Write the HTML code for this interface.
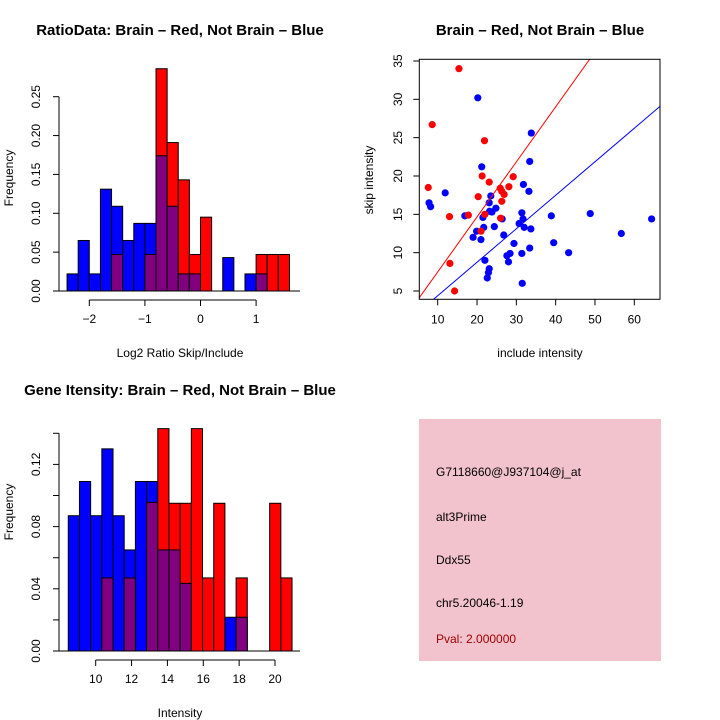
<!DOCTYPE html>
<html><head><meta charset="utf-8"><style>
body{margin:0;background:#fff;}
svg{display:block;font-family:"Liberation Sans",sans-serif;}
</style></head><body>
<svg id="c" width="720" height="720" viewBox="0 0 720 720">
<rect x="0" y="0" width="720" height="720" fill="#fff"/>
<g id="p1"></g>
<g id="p2"></g>
<g id="p3"></g>
<g id="p4">
<rect x="419" y="419" width="242" height="242" fill="#f3c3cd"/>
<text x="436" y="476" font-size="12">G7118660@J937104@j_at</text>
<text x="436" y="521" font-size="12">alt3Prime</text>
<text x="436" y="564" font-size="12">Ddx55</text>
<text x="436" y="607" font-size="12">chr5.20046-1.19</text>
<text x="436" y="643" font-size="12" fill="#a00000">Pval: 2.000000</text>
</g>
</svg>
<script>
// ---- Ratio histogram data ----
const ratioBinStart = -2.4;
const ratioBinWidth = 0.2;
const ratioBlue = [0.022,0.065,0.022,0.131,0.109,0.065,0.087,0.087,0.174,0.109,0.022,0.022,0,0,0.043,0,0.022,0.022,0,0];
const ratioRed  = [0,0,0,0,0.047,0,0,0.047,0.286,0.191,0.143,0.047,0.095,0,0,0,0,0.047,0.047,0.047];
const ratioXTicks = [-2,-1,0,1];
const ratioYTicks = [0,0.05,0.10,0.15,0.20,0.25];
const ratioYLabels = ["0.00","0.05","0.10","0.15","0.20","0.25"];

// ---- Gene intensity histogram data ----
const geneBinStart = 8.47;
const geneBinWidth = 0.624;
const geneBlue = [0.087,0.109,0.087,0.130,0.087,0.065,0.109,0.109,0.065,0.065,0.0435,0,0,0,0.0217,0.0217,0,0,0,0];
const geneRed  = [0,0,0,0.047,0,0.047,0,0.0956,0.143,0.095,0.095,0.143,0.047,0.095,0,0.047,0,0,0.095,0.047];
const geneXTicks = [10,12,14,16,18,20];
const geneYTicks = [0,0.02,0.04,0.06,0.08,0.10,0.12,0.14];
const geneYLabelVals = [0,0.04,0.08,0.12];
const geneYLabels = ["0.00","0.04","0.08","0.12"];

// ---- Scatter data ----
const redX = [15.4,8.6,21.9,7.6,13.0,13.1,14.3,17.8,20.3,21.3,23.1,22.0,21.0,25.9,26.3,26.9,26.3,26.0,28.1,29.2];
const redY = [34.0,26.7,24.6,18.5,14.7,8.6,5.0,14.9,17.3,20.0,19.2,15.0,12.8,18.4,18.0,17.6,16.7,14.5,18.6,19.9];
const blueX = [20.2,33.8,33.4,21.2,11.9,7.8,8.2,16.9,23.5,23.1,24.8,23.8,23.2,21.5,26.4,21.7,19.9,19.0,21.0,24.4,26.8,22.0,23.1,22.9,22.6,27.6,28.4,28.0,29.4,30.7,31.4,31.7,32.0,31.8,33.2,33.7,33.4,31.4,31.5,38.9,39.5,43.3,48.8,56.7,64.4];
const blueY = [30.2,25.6,21.9,21.2,17.8,16.5,16.0,14.8,17.4,16.5,15.8,15.3,15.4,14.6,14.4,13.3,12.8,12.0,11.7,13.4,12.3,9.0,7.9,7.4,6.7,9.6,9.9,8.8,11.2,13.8,15.2,14.4,13.3,18.9,18.0,13.1,10.6,9.9,6.0,14.8,11.3,10.0,15.1,12.5,14.4];
const redFit = [0.3, 0.718];   // intercept, slope
const blueFit = [0.01, 0.437];
const scXTicks = [10,20,30,40,50,60];
const scYTicks = [5,10,15,20,25,30,35];

const NS="http://www.w3.org/2000/svg";
function mk(parent, tag, attrs, txt){
  const e=document.createElementNS(NS,tag);
  for(const k in attrs) e.setAttribute(k,attrs[k]);
  if(txt!==undefined) e.textContent=txt;
  parent.appendChild(e); return e;
}

function hist(g, start, w, blue, red, xs, ys, xTicks, yTicks, yLabVals, yLabs, base, tickY){
  const n=blue.length;
  for(let i=0;i<n;i++){
    const b=blue[i], r=red[i];
    const x0=xs(start+i*w), x1=xs(start+(i+1)*w);
    const hi=Math.max(b,r), lo=Math.min(b,r);
    if(hi>0){
      const el=mk(g,'rect',{x:x0,y:ys(hi),width:x1-x0,height:ys(0)-ys(hi),fill:(b>=r?'#0000ff':'#ff0000'),stroke:'#000','stroke-width':1});
      
      
    }
    if(lo>0){
      const el=mk(g,'rect',{x:x0,y:ys(lo),width:x1-x0,height:ys(0)-ys(lo),fill:'#800080',stroke:'#000','stroke-width':1});
      
      
    }
  }
  mk(g,'line',{x1:59,x2:300,y1:ys(0),y2:ys(0),stroke:'#000','stroke-width':1});
  const ya=mk(g,'g',{});
  
  
  mk(ya,'line',{x1:59,x2:59,y1:ys(yTicks[0]),y2:ys(yTicks[yTicks.length-1]),stroke:'#000'});
  yTicks.forEach(v=>mk(ya,'line',{x1:53,x2:59,y1:ys(v),y2:ys(v),stroke:'#000'}));
  yLabVals.forEach((v,i)=>{const t=mk(ya,'text',{x:40,y:ys(v),'font-size':12,'text-anchor':'middle',transform:`rotate(-90 40 ${ys(v)})`},yLabs[i]);
    });
  const xa=mk(g,'g',{});
  
  
  mk(xa,'line',{x1:xs(xTicks[0]),x2:xs(xTicks[xTicks.length-1]),y1:tickY,y2:tickY,stroke:'#000'});
  xTicks.forEach(v=>{mk(xa,'line',{x1:xs(v),x2:xs(v),y1:tickY,y2:tickY+6,stroke:'#000'});
    const t=mk(xa,'text',{x:xs(v),y:tickY+23,'font-size':12,'text-anchor':'middle'},String(v).replace('-','\u2212'));
    });
}

// Plot 1
(function(){
  const g=document.getElementById('p1');
  const xs=v=>89.3+(v+2)*55.6;
  const ys=v=>291-v*777.2;
  hist(g,ratioBinStart,ratioBinWidth,ratioBlue,ratioRed,xs,ys,ratioXTicks,ratioYTicks,ratioYTicks,ratioYLabels,291,300);
  let t=mk(g,'text',{x:180,y:35,'font-size':15,'font-weight':'bold','text-anchor':'middle'},'RatioData: Brain \u2013 Red, Not Brain \u2013 Blue');
  
  t=mk(g,'text',{x:180,y:357,'font-size':12,'text-anchor':'middle'},'Log2 Ratio Skip/Include');
  
  t=mk(g,'text',{x:13,y:178,'font-size':12,'text-anchor':'middle',transform:'rotate(-90 13 178)'},'Frequency');
  
})();

// Plot 3
(function(){
  const g=document.getElementById('p3');
  const xs=v=>95.7+(v-10)*17.93;
  const ys=v=>651-v*1555;
  hist(g,geneBinStart,geneBinWidth,geneBlue,geneRed,xs,ys,geneXTicks,geneYTicks,geneYLabelVals,geneYLabels,651,660);
  let t=mk(g,'text',{x:180,y:395,'font-size':15,'font-weight':'bold','text-anchor':'middle'},'Gene Itensity: Brain \u2013 Red, Not Brain \u2013 Blue');
  
  t=mk(g,'text',{x:180,y:717,'font-size':12,'text-anchor':'middle'},'Intensity');
  
  t=mk(g,'text',{x:13,y:512,'font-size':12,'text-anchor':'middle',transform:'rotate(-90 13 512)'},'Frequency');
  
})();

// Plot 2 scatter
(function(){
  const g=document.getElementById('p2');
  const L=419.3,R=660,T=59.3,B=299.3;
  const xs=v=>437.7+(v-10)*3.932;
  const ys=v=>291-(v-5)*7.667;
  const xmin=(L-437.7)/3.932+10, xmax=(R-437.7)/3.932+10;
  const cp=mk(g,'clipPath',{id:'scclip'});
  mk(cp,'rect',{x:L,y:T,width:R-L,height:B-T});
  function fit(f,col,name){
    const ln=mk(g,'line',{x1:xs(xmin),y1:ys(f[0]+f[1]*xmin),x2:xs(xmax),y2:ys(f[0]+f[1]*xmax),stroke:col,'stroke-width':1,'clip-path':'url(#scclip)'});
    
    
  }
  blueX.forEach((x,i)=>{const c=mk(g,'circle',{cx:xs(x),cy:ys(blueY[i]),r:3.6,fill:'#0000ff'});
    });
  redX.forEach((x,i)=>{const c=mk(g,'circle',{cx:xs(x),cy:ys(redY[i]),r:3.6,fill:'#ff0000'});
    });
  fit(redFit,'#ff0000','red-fit-line');
  fit(blueFit,'#0000ff','blue-fit-line');
  const fr=mk(g,'rect',{x:L,y:T,width:R-L,height:B-T,fill:'none',stroke:'#000'});
  
  scXTicks.forEach(v=>{mk(g,'line',{x1:xs(v),x2:xs(v),y1:B,y2:B+6,stroke:'#000'});
    const t=mk(g,'text',{x:xs(v),y:B+24,'font-size':12,'text-anchor':'middle'},String(v));
    });
  scYTicks.forEach(v=>{mk(g,'line',{x1:L-6,x2:L,y1:ys(v),y2:ys(v),stroke:'#000'});
    const t=mk(g,'text',{x:402,y:ys(v),'font-size':12,'text-anchor':'middle',transform:`rotate(-90 402 ${ys(v)})`},String(v));
    });
  let t=mk(g,'text',{x:540,y:35,'font-size':15,'font-weight':'bold','text-anchor':'middle'},'Brain \u2013 Red, Not Brain \u2013 Blue');
  
  t=mk(g,'text',{x:540,y:357,'font-size':12,'text-anchor':'middle'},'include intensity');
  
  t=mk(g,'text',{x:373,y:180,'font-size':12,'text-anchor':'middle',transform:'rotate(-90 373 180)'},'skip intensity');
  
})();
</script>
</body></html>
